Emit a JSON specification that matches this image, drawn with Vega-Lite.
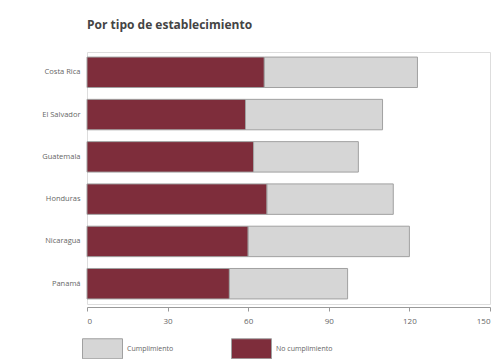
{
  "$schema": "https://vega.github.io/schema/vega-lite/v6.json",
  "autosize": "none",
  "width": 403,
  "height": 252,
  "padding": {"left": 87, "top": 52, "right": 12, "bottom": 55},
  "background": "white",
  "title": {"text": "Por tipo de establecimiento", "anchor": "start", "frame": "group", "font": "Open Sans", "fontSize": 12, "fontWeight": "bold", "color": "#444444", "offset": 20},
  "data": {"values": [
    {"pais": "Costa Rica", "tipo": "No cumplimiento", "orden": 1, "valor": 66},
    {"pais": "Costa Rica", "tipo": "Cumplimiento", "orden": 2, "valor": 57},
    {"pais": "El Salvador", "tipo": "No cumplimiento", "orden": 1, "valor": 59},
    {"pais": "El Salvador", "tipo": "Cumplimiento", "orden": 2, "valor": 51},
    {"pais": "Guatemala", "tipo": "No cumplimiento", "orden": 1, "valor": 62},
    {"pais": "Guatemala", "tipo": "Cumplimiento", "orden": 2, "valor": 39},
    {"pais": "Honduras", "tipo": "No cumplimiento", "orden": 1, "valor": 67},
    {"pais": "Honduras", "tipo": "Cumplimiento", "orden": 2, "valor": 47},
    {"pais": "Nicaragua", "tipo": "No cumplimiento", "orden": 1, "valor": 60},
    {"pais": "Nicaragua", "tipo": "Cumplimiento", "orden": 2, "valor": 60},
    {"pais": "Panamá", "tipo": "No cumplimiento", "orden": 1, "valor": 53},
    {"pais": "Panamá", "tipo": "Cumplimiento", "orden": 2, "valor": 44}
  ]},
  "mark": {"type": "bar", "stroke": "#a0a0a0", "strokeWidth": 1},
  "encoding": {
    "y": {"field": "pais", "type": "nominal", "sort": null,
      "scale": {"paddingInner": 0.28, "paddingOuter": 0.12},
      "axis": {"title": null, "domain": false, "ticks": false, "labelFont": "Open Sans", "labelFontSize": 7.5, "labelColor": "#666666", "labelPadding": 7}},
    "x": {"field": "valor", "type": "quantitative", "stack": "zero",
      "scale": {"domain": [0, 150], "nice": false},
      "axis": {"title": null, "values": [0, 30, 60, 90, 120, 150], "grid": false, "domainColor": "#999999", "tickColor": "#999999", "tickSize": 4, "offset": 3, "labelFont": "Open Sans", "labelFontSize": 8, "labelColor": "#666666", "labelPadding": 6}},
    "order": {"field": "orden", "type": "quantitative"},
    "color": {"field": "tipo", "type": "nominal",
      "scale": {"domain": ["Cumplimiento", "No cumplimiento"], "range": ["#d6d6d6", "#7e2d3b"]},
      "legend": {"title": null, "orient": "none", "direction": "horizontal", "legendX": -5, "legendY": 276,
        "symbolType": "M-1,-0.5H1V0.5H-1Z", "symbolSize": 1600, "symbolStrokeColor": "#a0a0a0", "symbolStrokeWidth": 1,
        "labelFont": "Open Sans", "labelFontSize": 7, "labelColor": "#666666", "columnPadding": 55, "labelOffset": 4}}
  }
}
